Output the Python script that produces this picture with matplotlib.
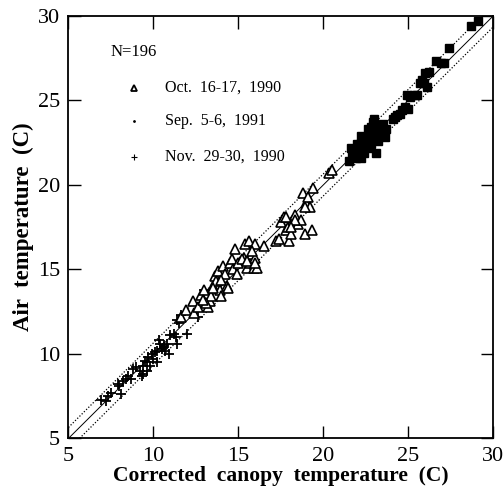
import numpy as np
import matplotlib.pyplot as plt

plt.rcParams['font.family'] = ['Liberation Serif', 'DejaVu Serif']

# Nov. 29-30, 1990 (plus signs)
nov_x = [6.9, 7.3, 7.5, 8.1, 7.9, 8.4, 8.5, 8.8, 9.0, 9.3, 9.4, 9.6, 9.6, 9.7,
         9.9, 10.0, 10.2, 10.4, 10.3, 10.6, 10.7, 10.9, 10.8, 11.2, 11.3, 11.4,
         11.4, 12.0, 11.6, 10.2, 9.8, 7.2, 8.2, 8.7, 9.2, 9.5, 10.1, 10.5, 11.0,
         11.5, 9.4, 10.6, 8.0, 13.0, 12.6]
nov_y = [7.3, 7.5, 7.7, 7.6, 8.2, 8.5, 8.7, 9.1, 9.2, 8.7, 8.8, 9.0, 9.5, 9.8,
         10.0, 9.7, 10.2, 10.6, 10.8, 10.4, 10.2, 10.0, 10.6, 11.2, 11.0, 10.6,
         12.0, 11.2, 12.3, 9.5, 9.3, 7.2, 8.4, 8.5, 9.0, 9.6, 10.1, 10.3, 11.1,
         11.8, 9.3, 10.5, 8.1, 13.8, 12.2]

# Oct. 16-17, 1990 (open triangles)
oct_x = [11.6, 11.9, 12.3, 12.4, 12.6, 12.8, 13.0, 13.2, 13.3, 13.4, 13.5, 13.6,
         13.8, 13.9, 14.0, 14.1, 14.3, 14.4, 14.5, 14.6, 14.7, 14.8, 14.9, 15.0,
         15.3, 15.4, 15.5, 15.6, 15.7, 15.8, 15.9, 16.0, 16.0, 16.1, 16.5, 17.2,
         17.4, 17.5, 17.7, 17.8, 17.9, 18.0, 18.1, 18.2, 18.3, 18.5, 18.7, 18.8,
         18.9, 19.0, 19.1, 19.2, 19.3, 19.4, 20.3, 20.5, 18.3, 17.8, 18.1, 18.9,
         13.1, 13.7, 14.2, 15.2, 15.5, 12.9, 13.5, 14.0, 15.8, 16.0]
oct_y = [12.2, 12.6, 13.1, 12.4, 12.8, 13.5, 13.8, 12.8, 13.1, 13.4, 14.0, 14.6,
         14.9, 13.8, 13.4, 15.2, 14.0, 13.9, 15.4, 15.6, 15.0, 16.2, 14.7, 15.4,
         15.7, 16.5, 15.1, 16.7, 15.4, 15.9, 15.1, 15.7, 16.5, 15.1, 16.4, 16.7,
         16.8, 17.8, 18.1, 17.3, 17.5, 16.7, 17.1, 17.9, 18.2, 17.7, 17.9, 19.5,
         17.1, 18.9, 19.3, 18.7, 17.3, 19.8, 20.7, 20.9, 17.9, 18.1, 17.5, 18.7,
         13.0, 14.3, 14.7, 15.6, 15.5, 13.2, 13.9, 14.4, 16.1, 15.4]

# Sep. 5-6, 1991 (filled squares)
sep_x = [21.5, 21.6, 21.7, 21.9, 22.0, 22.1, 22.2, 22.3, 22.4, 22.4, 22.6, 22.7,
         22.8, 22.9, 23.0, 23.1, 23.1, 23.2, 23.4, 23.5, 23.6, 24.1, 24.3, 24.5,
         24.6, 24.8, 24.9, 25.1, 25.3, 25.5, 25.7, 25.8, 25.9, 26.0, 26.2, 26.6,
         26.9, 27.1, 27.4, 28.7, 29.1, 22.5, 22.8, 23.3, 21.8, 22.2, 23.0, 23.7,
         24.2, 25.0, 26.1, 22.6, 23.4]
sep_y = [21.4, 22.2, 21.8, 21.6, 22.4, 22.1, 21.6, 22.6, 21.9, 22.8, 22.2, 23.0,
         23.4, 23.7, 23.9, 21.9, 23.0, 22.6, 23.2, 23.6, 22.8, 23.9, 24.1, 24.2,
         24.4, 24.6, 25.3, 25.2, 25.3, 25.3, 26.0, 26.2, 26.0, 26.6, 26.7, 27.3,
         27.2, 27.2, 28.1, 29.4, 29.7, 22.5, 22.4, 23.3, 22.0, 22.9, 22.7, 23.3,
         24.0, 24.5, 25.8, 23.3, 23.5]

fig = plt.figure(figsize=(5.03, 4.91), dpi=100)
ax = fig.add_axes([0.136, 0.107, 0.845, 0.861])

# 1:1 line and +-0.65 C band
line = np.array([5, 30])
ax.plot(line, line, color='black', lw=0.7)
ax.plot(line, line + 0.65, color='black', lw=0.9, ls=(0, (1, 1.5)))
ax.plot(line, line - 0.65, color='black', lw=0.9, ls=(0, (1, 1.5)))

ax.plot(nov_x, nov_y, '+', color='black', ms=7.5, mew=1.3)
ax.plot(oct_x, oct_y, '^', mfc='white', mec='black', ms=6.5, mew=1.2)
ax.plot(sep_x, sep_y, 's', color='black', ms=6)

ax.set_xlim(5, 30)
ax.set_ylim(5, 30)
ax.set_xticks(range(5, 31, 5))
ax.set_yticks(range(5, 31, 5))
ax.tick_params(direction='in', length=9, width=1.0, labelsize=16,
               top=True, right=True, pad=6)
for s in ax.spines.values():
    s.set_linewidth(1.3)

ax.set_xlabel('Corrected  canopy  temperature  (C)', fontsize=15.5,
              fontweight='bold', labelpad=0)
ax.set_ylabel('Air  temperature  (C)', fontsize=16.5, fontweight='bold',
              labelpad=3)

# legend drawn as text
ax.text(7.45, 27.87, 'N=196', fontsize=12, va='center')
ax.plot([8.83], [25.75], '^', mfc='white', mec='black', ms=5, mew=1.3)
ax.plot([8.83], [23.75], '.', color='black', ms=2)
ax.plot([8.83], [21.66], '+', color='black', ms=5, mew=0.8)
ax.text(10.7, 25.75, 'Oct.  16-17,  1990', fontsize=11.5, va='center')
ax.text(10.7, 23.75, 'Sep.  5-6,  1991', fontsize=11.5, va='center')
ax.text(10.7, 21.66, 'Nov.  29-30,  1990', fontsize=11.5, va='center')

fig.savefig('out.png', dpi=100)
